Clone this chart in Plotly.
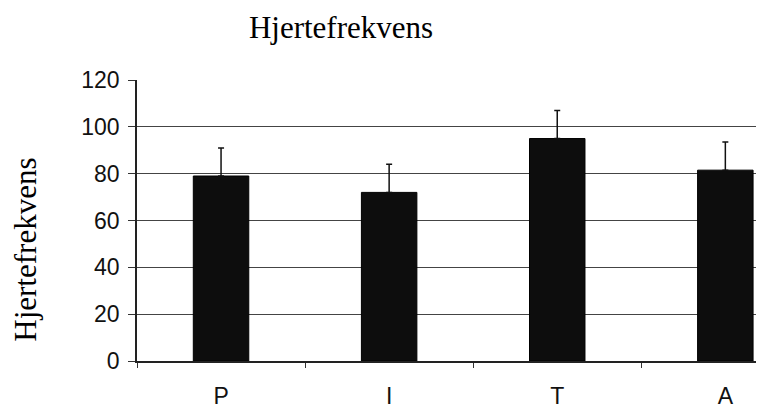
import plotly.graph_objects as go

categories = ["P", "I", "T", "A"]
values = [79, 72, 95, 81.5]
errors_up = [12, 12, 12, 12]
y_ticks = [0, 20, 40, 60, 80, 100, 120]
title_text = "Hjertefrekvens"
y_title = "Hjertefrekvens"

# page has an 8px body margin; figure is sized to fill the rest of the viewport
W, H = 756, 401

fig = go.Figure()
fig.add_trace(go.Bar(
    x=categories, y=values, width=0.33,
    marker=dict(color="#0d0d0d", line=dict(color="#000000", width=1)),
    error_y=dict(type="data", symmetric=False, array=errors_up,
                 arrayminus=[0] * len(values), color="#111111",
                 thickness=1.5, width=3),
))

fig.update_layout(
    width=W, height=H,
    margin=dict(l=129, r=0, t=72, b=46),
    paper_bgcolor="white", plot_bgcolor="white",
    showlegend=False,
    title=dict(text=title_text, xref="container", yref="container",
               x=333 / W, y=1 - 19 / H, xanchor="center", yanchor="middle",
               font=dict(family="Liberation Serif", size=31, color="#000")),
    annotations=[dict(text=y_title, xref="paper", yref="paper",
                      x=(26 - 137) / 627, y=0.396, textangle=-90,
                      showarrow=False, xanchor="center", yanchor="middle",
                      font=dict(family="Liberation Serif", size=31, color="#000"))],
)
fig.update_xaxes(
    range=[-0.5, 3.23], showgrid=False, showline=True, linecolor="#222",
    linewidth=1.5, ticks="outside", tickson="boundaries", ticklen=5,
    tickcolor="#333", ticklabelstandoff=14,
    tickfont=dict(family="Liberation Sans", size=23, color="#111"),
)
fig.update_yaxes(
    range=[0, 120], tickvals=y_ticks, showgrid=True, gridcolor="#444",
    gridwidth=1.3, showline=True, linecolor="#222", linewidth=1.5,
    ticks="outside", ticklen=7, tickcolor="#333", zeroline=False,
    ticklabelstandoff=4,
    tickfont=dict(family="Liberation Sans", size=23, color="#111"),
)

fig.write_html("out.html")
